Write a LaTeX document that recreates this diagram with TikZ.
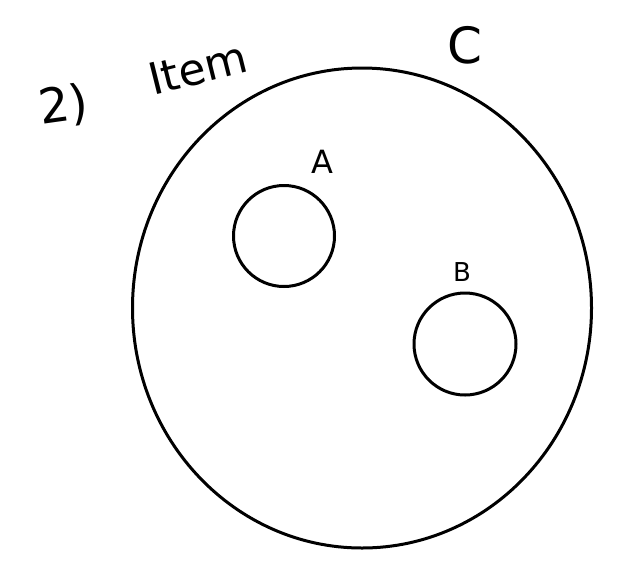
\documentclass[tikz,border=0pt]{standalone}
\usepackage{fontspec}
\setmainfont{DejaVu Sans}
\begin{document}
\begin{tikzpicture}[x=1pt,y=-1pt,
  ring/.style={draw=black,line width=3pt},
  hand/.style={inner sep=0pt}]
\useasboundingbox (0,0) rectangle (618,566);
\coordinate (C) at (362,308);
\draw[ring] (C) ellipse [x radius=229.5pt, y radius=240pt];
\node[ring,circle,minimum size=101pt,inner sep=0pt] (A) at (284,236) {};
\node[ring,circle,minimum size=102pt,inner sep=0pt] (B) at (465,344) {};
\node[hand,font=\fontsize{32}{32}\selectfont] (la) at (322,162) {A};
\node[hand,font=\fontsize{26}{26}\selectfont] (lb) at (462,272) {B};
\node[hand,font=\fontsize{50}{50}\selectfont] (lc) at (465,45) {C};
\node[hand,font=\fontsize{48}{48}\selectfont,rotate=8] (lt) at (64,106) {2)};
\node[hand,font=\fontsize{44}{44}\selectfont,rotate=14] (li) at (198,68) {Item};
\end{tikzpicture}
\end{document}
